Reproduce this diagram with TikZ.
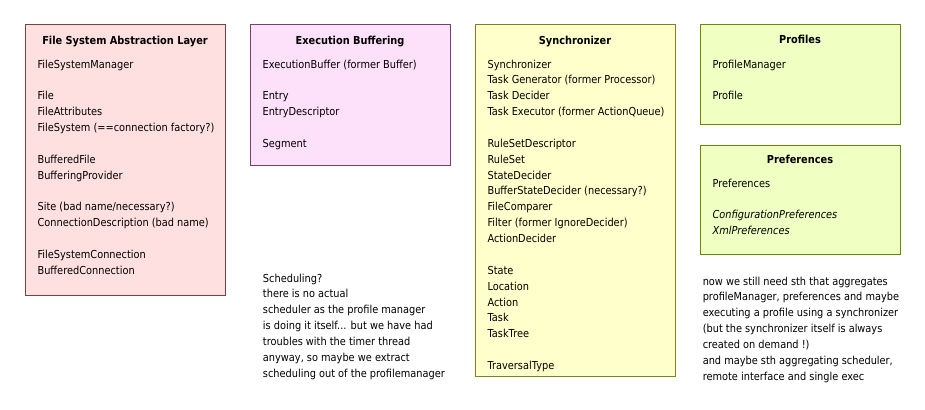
\documentclass[tikz,border=0pt]{standalone}
\usepackage{fontspec}
\setmainfont{DejaVu Sans}[FakeStretch=0.89]
\usepackage{tikz}

\newcommand{\notefont}{\fontsize{8.25pt}{11.9pt}\selectfont}

\begin{document}
\begin{tikzpicture}[x=0.75pt,y=0.75pt,yscale=-1,xscale=1,
  font=\notefont,
  fsabox/.style={draw={rgb,255:red,128;green,64;blue,64},fill={rgb,255:red,255;green,224;blue,224},line width=0.75},
  bufbox/.style={draw={rgb,255:red,120;green,64;blue,112},fill={rgb,255:red,253;green,224;blue,249},line width=0.75},
  syncbox/.style={draw={rgb,255:red,128;green,128;blue,32},fill={rgb,255:red,255;green,255;blue,204},line width=0.75},
  profbox/.style={draw={rgb,255:red,104;green,136;blue,0},fill={rgb,255:red,240;green,255;blue,194},line width=0.75},
  boxtitle/.style={anchor=base,inner sep=0pt,font=\notefont\bfseries},
  % first line hangs from its strut
  boxitems/.style={anchor=north west,inner sep=0pt,align=left,execute at begin node=\strut}]
\useasboundingbox (0,0) rectangle (925,410);

%Shape: Rectangle [File System Abstraction Layer]
\draw  [fsabox] (25,25) -- (225,25) -- (225,295) -- (25,295) -- cycle ;
%Shape: Rectangle [Execution Buffering]
\draw  [bufbox] (250,25) -- (450,25) -- (450,165) -- (250,165) -- cycle ;
%Shape: Rectangle [Synchronizer]
\draw  [syncbox] (475,25) -- (675,25) -- (675,376) -- (475,376) -- cycle ;
%Shape: Rectangle [Profiles]
\draw  [profbox] (700,25) -- (900,25) -- (900,125) -- (700,125) -- cycle ;
%Shape: Rectangle [Preferences]
\draw  [profbox] (700,145) -- (900,145) -- (900,254) -- (700,254) -- cycle ;

% Text Node
\draw (125,45) node [boxtitle] (fsaTitle) {File System Abstraction Layer};
% Text Node
\draw (37.3,59.4) node [boxitems] (fsaItems) {FileSystemManager\\[11.9pt]
File\\
FileAttributes\\
FileSystem (==connection factory?)\\[11.9pt]
BufferedFile\\
BufferingProvider\\[11.9pt]
Site (bad name/necessary?)\\
ConnectionDescription (bad name)\\[11.9pt]
FileSystemConnection\\
BufferedConnection};

% Text Node
\draw (350,45) node [boxtitle] (bufTitle) {Execution Buffering};
% Text Node
\draw (262.3,59.4) node [boxitems] (bufItems) {ExecutionBuffer (former Buffer)\\[11.9pt]
Entry\\
EntryDescriptor\\[11.9pt]
Segment};

% Text Node
\draw (575,45) node [boxtitle] (syncTitle) {Synchronizer};
% Text Node
\draw (487.3,59.4) node [boxitems] (syncItems) {Synchronizer\\
Task Generator (former Processor)\\
Task Decider\\
Task Executor (former ActionQueue)\\[11.9pt]
RuleSetDescriptor\\
RuleSet\\
StateDecider\\
BufferStateDecider (necessary?)\\
FileComparer\\
Filter (former IgnoreDecider)\\
ActionDecider\\[11.9pt]
State\\
Location\\
Action\\
Task\\
TaskTree\\[11.9pt]
TraversalType};

% Text Node
\draw (800,44) node [boxtitle] (profTitle) {Profiles};
% Text Node
\draw (712.3,59.4) node [boxitems] (profItems) {ProfileManager\\[11.9pt]
Profile};

% Text Node
\draw (800,163) node [boxtitle] (prefTitle) {Preferences};
% Text Node
\draw (712.3,178.4) node [boxitems] (prefItems) {Preferences\\[11.9pt]
\textit{ConfigurationPreferences}\\
\textit{XmlPreferences}};

% Text Node
\draw (262.7,273.4) node [boxitems] (schedNote) {Scheduling?\\
there is no actual\\
scheduler as the profile manager\\
is doing it itself... but we have had\\
troubles with the timer thread\\
anyway, so maybe we extract\\
scheduling out of the profilemanager};

% Text Node
\draw (702.5,276.4) node [boxitems] (aggrNote) {now we still need sth that aggregates\\
profileManager, preferences and maybe\\
executing a profile using a synchronizer\\
(but the synchronizer itself is always\\
created on demand !)\\
and maybe sth aggregating scheduler,\\
remote interface and single exec};

\end{tikzpicture}
\end{document}
